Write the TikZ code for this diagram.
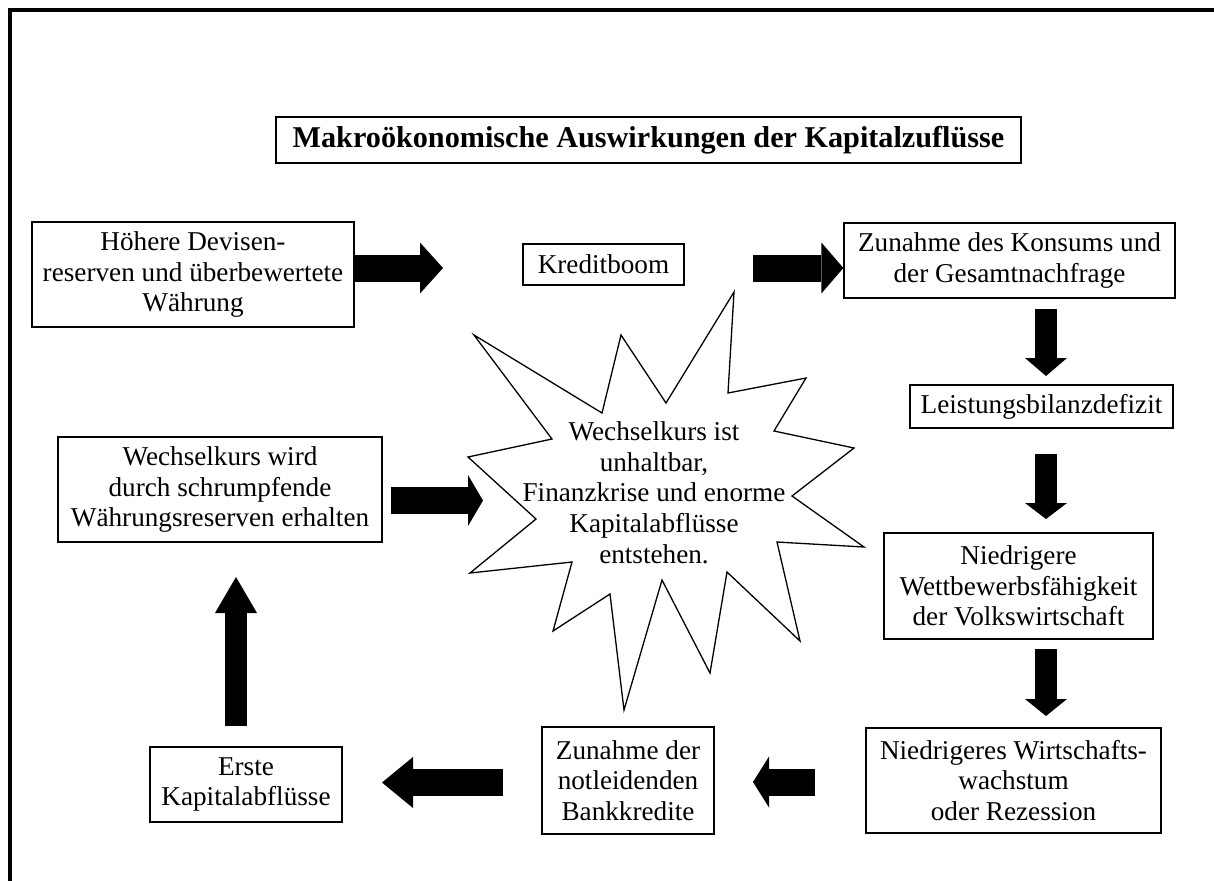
\documentclass[tikz,border=0pt]{standalone}
\usepackage{fontspec}
\setmainfont{Liberation Serif}
\usetikzlibrary{arrows.meta}
\tikzset{
  box/.style={draw,line width=.65pt,align=center,inner sep=2pt,font=\fontsize{13.6}{15.35}\selectfont},
  harrow/.style={line width=13.5pt,-{Triangle[length=#1,width=25.5pt,line width=0pt]}},
  varrow/.style={line width=11pt,-{Triangle[length=#1,width=21pt,line width=0pt]}}
}
\begin{document}
\begin{tikzpicture}[x=.5pt,y=-.5pt]
\useasboundingbox(0,0)rectangle(1214,880);
\draw[line width=1.75pt](10,890)--(10,10)--(1224,10);
\node[box,font=\fontsize{15.1}{17.4}\selectfont\bfseries,minimum width=372.5pt,minimum height=23pt](titel)at(648.5,140){Makroökonomische Auswirkungen der Kapitalzuflüsse};
\node[box,minimum width=161pt,minimum height=52.5pt](devisen)at(193,274.5){Höhere Devisen-\\reserven und überbewertete\\Währung};
\node[box,minimum width=80.5pt,minimum height=20.5pt](kredit)at(603.5,264.5){Kreditboom};
\node[box,minimum width=165.5pt,minimum height=37.5pt](konsum)at(1009.5,260.5){Zunahme des Konsums und\\der Gesamtnachfrage};
\node[box,minimum width=131.5pt,minimum height=21.5pt](leistung)at(1041.5,406.5){Leistungsbilanzdefizit};
\node[box,minimum width=134.5pt,minimum height=53pt](wettbewerb)at(1018.5,586){Niedrigere\\Wettbewerbsfähigkeit\\der Volkswirtschaft};
\node[box,minimum width=147.5pt,minimum height=52.5pt](wachstum)at(1013.5,780.5){Niedrigeres Wirtschafts-\\wachstum\\oder Rezession};
\node[box,minimum width=86pt,minimum height=53.5pt](bank)at(628,780.5){Zunahme der\\notleidenden\\Bankkredite};
\node[box,minimum width=96pt,minimum height=37.5pt](erste)at(246,784.5){Erste\\Kapitalabflüsse};
\node[box,minimum width=162pt,minimum height=52.5pt](wechsel)at(220,489.5){Wechselkurs wird\\durch schrumpfende\\Währungsreserven erhalten};
\draw[line width=.65pt](474,335)--(602,413)--(621,335)--(666,403)--(734,292)--(728,393)--(806,378)--(774,431)
  --(854,448)--(792,496)--(864,547)--(777,542)--(800,641)--(727,572)--(710,673)--(662,580)
  --(624,710)--(610,594)--(553,631)--(572,562)--(470,573)--(536,519)--(468,457)--(552,439)--cycle;
\node[align=center,inner sep=0,font=\fontsize{13.6}{15.35}\selectfont](krise)at(654,492.5){Wechselkurs ist\\unhaltbar,\\Finanzkrise und enorme\\Kapitalabflüsse\\entstehen.};
\coordinate(B1)at(443,268);
\coordinate(A2)at(753,268);
\coordinate(A3)at(1046,309);
\coordinate(B3)at(1046,376);
\coordinate(A4)at(1046,454);
\coordinate(B4)at(1046,519);
\coordinate(A5)at(1046,649);
\coordinate(B5)at(1046,716);
\coordinate(A6)at(391,500.5);
\coordinate(B6)at(483,500.5);
\coordinate(A7)at(815,782);
\coordinate(B7)at(753,782);
\coordinate(A8)at(503,782.5);
\coordinate(B8)at(382,782.5);
\coordinate(A9)at(236,726);
\coordinate(B9)at(236,577);
\draw[harrow=11.5pt](devisen.east|-B1)--(B1);
\draw[harrow=11pt](A2)--(konsum.west|-A2);
\draw[varrow=9pt](A3)--(B3);
\draw[varrow=8pt](A4)--(B4);
\draw[varrow=8.5pt](A5)--(B5);
\draw[harrow=7.5pt](A6)--(B6);
\draw[harrow=8pt](A7)--(B7);
\draw[harrow=15.5pt](A8)--(B8);
\draw[varrow=18pt](A9)--(B9);
\end{tikzpicture}
\end{document}
